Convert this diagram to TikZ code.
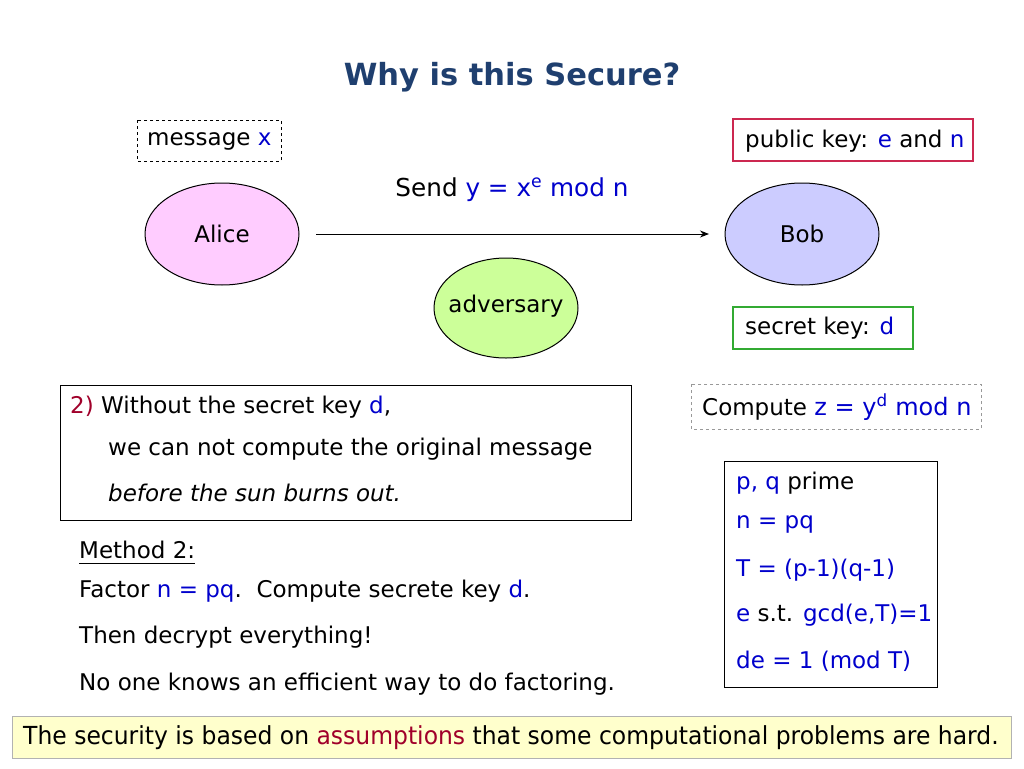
\documentclass[tikz,border=0pt]{standalone}
\usepackage{fontspec}
\setmainfont{DejaVu Sans}
\usetikzlibrary{arrows.meta,shapes.geometric}
\definecolor{tblue}{HTML}{1F3F6F}
\definecolor{vb}{HTML}{0000CC}
\definecolor{dred}{HTML}{A0002A}
\definecolor{alicef}{HTML}{FFCCFF}
\definecolor{bobf}{HTML}{CCCCFF}
\definecolor{advf}{HTML}{CCFF99}
\definecolor{barf}{HTML}{FFFFCC}
\newcommand{\vb}[1]{\textcolor{vb}{#1}}
\tikzset{
  ln/.style={line width=1pt},
  txt/.style={inner sep=0pt, font=\fontsize{23}{27}\selectfont},
  person/.style={ellipse, draw=black, line width=1pt, inner sep=0pt},
  pubbox/.style={line width=1.2pt, draw={rgb,255:red,204;green,40;blue,80}},
  secbox/.style={line width=1.2pt, draw={rgb,255:red,50;green,170;blue,50}},
}
\begin{document}
\begin{tikzpicture}[x=1pt,y=-1pt]
\useasboundingbox (0,0) rectangle (1024,768);
% title
\node[inner sep=0pt, font=\fontsize{30.5}{34}\selectfont\bfseries, text=tblue] (title) at (512,77) {Why is this Secure?};
% message box
\draw[ln, dashed] (137,120) rectangle (281,161);
\node[txt, anchor=west] (msg) at (147,141) {message \vb{x}};
% public key box
\node[pubbox, minimum width=240pt, minimum height=42pt, inner sep=0pt] (pubframe) at (853,140) {};
\node[txt, anchor=west] (pub) at (745,141) {public key: \vb{e} and \vb{n}};
% send label
\node[inner sep=0pt, font=\fontsize{24.7}{29}\selectfont] (send) at (512,190) {Send \vb{y = x\textsuperscript{e} mod n}};
% ellipses
\node[person, fill=alicef, minimum width=154pt, minimum height=102pt] (alice) at (222,234) {};
\node[txt] at (alice.center) {Alice};
\node[person, fill=bobf, minimum width=154pt, minimum height=102pt] (bob) at (802,234) {};
\node[txt] at (bob.center) {Bob};
\node[person, fill=advf, minimum width=144pt, minimum height=100pt] (adv) at (506,308) {};
\node[txt] at (506,306) {adversary};
\coordinate (as) at (316,234);
\coordinate (ae) at (709,234);
\draw[ln, -{Stealth[length=9pt,width=7pt]}] (as) -- (ae);
% secret key box
\node[secbox, minimum width=180pt, minimum height=42pt, inner sep=0pt] (secframe) at (823,328) {};
\node[txt, anchor=west] (sec) at (745,328) {secret key: \vb{d}};
% box 2
\draw[ln] (60,385) rectangle (631,520);
\node[txt, anchor=west] (l1) at (70,407) {\textcolor{dred}{2)} Without the secret key \vb{d},};
\node[txt, anchor=west] (l2) at (108,449) {we can not compute the original message};
\node[txt, anchor=west] (l3) at (108,493) {\itshape before the sun burns out.};
% compute box
\draw[ln, dashed, color=gray!80] (691,384) rectangle (981,429);
\node[txt, anchor=west] (comp) at (702,407) {Compute \textcolor{vb}{\fontsize{24}{29}\selectfont z = y\textsuperscript{d} mod n}};
% pq box
\draw[ln] (724,461) rectangle (937,687);
\node[txt, anchor=west] (p1) at (736,483) {\vb{p, q} prime};
\node[txt, anchor=west] (p2) at (736,524) {\vb{n = pq}};
\node[txt, anchor=west] (p3) at (736,570) {\vb{T = (p-1)(q-1)}};
\node[txt, anchor=west] (p4) at (736,615) {\vb{e} s.t. \vb{gcd(e,T)=1}};
\node[txt, anchor=west] (p5) at (736,661) {\vb{de = 1 (mod T)}};
% method 2
\node[txt, anchor=west] (m1) at (79,550) {Method 2:};
\draw[ln] (m1.south west) ++(0,4) -- ([yshift=-4pt]m1.south east);
\node[txt, anchor=west] (m2) at (79,591) {Factor \vb{n = pq}.\ \ Compute secrete key \vb{d}.};
\node[txt, anchor=west] (m3) at (79,637) {Then decrypt everything!};
\node[txt, anchor=west] (m4) at (79,684) {No one knows an efficient way to do factoring.};
% bottom bar
\draw[ln, fill=barf, draw=gray!60] (12,716) rectangle (1011,758);
\node[txt] (bar) at (511,738) {\scalebox{1.02}[1.08]{The security is based on \textcolor{dred}{assumptions} that some computational problems are hard.}};
\end{tikzpicture}
\end{document}
